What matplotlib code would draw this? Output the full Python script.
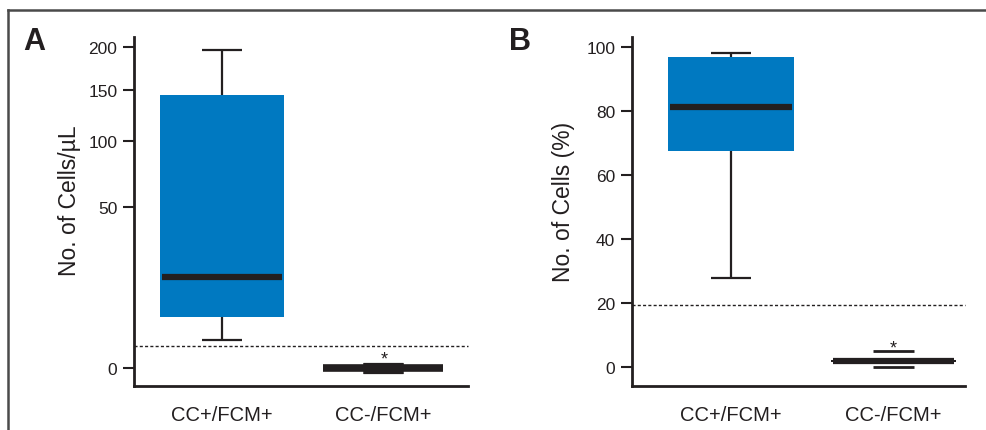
import numpy as np
import matplotlib
matplotlib.use("Agg")
import matplotlib.pyplot as plt
from matplotlib.lines import Line2D

plt.rcParams['font.family'] = ['Liberation Sans', 'DejaVu Sans']

# Box plot summaries
groups = ["CC+/FCM+", "CC-/FCM+"]

# Panel A: absolute counts (cells/uL)
a_lo = [1.5, 0.0]
a_q1 = [5.0, 0.0]
a_med = [16.0, 0.0]
a_q3 = [145.0, 0.0]
a_hi = [196.0, 0.0]
a_cut = 0.95
a_ticks = [0, 50, 100, 150, 200]

# Panel B: percentage of cells
b_lo = [27.8, 0.1]
b_q1 = [67.5, 1.6]
b_med = [81.2, 1.9]
b_q3 = [96.9, 2.2]
b_hi = [98.1, 5.1]
b_cut = 19.5
b_ticks = [0, 20, 40, 60, 80, 100]

BLUE = '#0079C1'
INK = '#231f20'


def ssqrt(v):
    v = np.asarray(v, dtype=float)
    return np.sign(v) * np.sqrt(np.abs(v))


def ssq(v):
    v = np.asarray(v, dtype=float)
    return np.sign(v) * v ** 2


def draw_panel(ax, lo, q1, med, q3, hi, cut, ticks, ylabel, box_colors,
               med_lw, cap_lw, whiskers):
    x = np.arange(len(groups))
    for i in x:
        h = q3[i] - q1[i]
        if h > 0:
            ax.bar(i, h, bottom=q1[i], width=0.77, color=box_colors[i],
                   edgecolor='none', zorder=2)
        if whiskers[i]:
            ax.vlines(i, q3[i], hi[i], color=INK, lw=1.6, zorder=1)
            ax.vlines(i, lo[i], q1[i], color=INK, lw=1.6, zorder=1)
        ax.hlines([lo[i], hi[i]], i - 0.125, i + 0.125, color=INK,
                  lw=cap_lw[i], zorder=3)
        ax.hlines(med[i], i - 0.375, i + 0.375, color=INK, lw=med_lw[i],
                  zorder=4)
    ax.axhline(cut, color=INK, lw=1.0, ls=(0, (2.2, 1.6)), zorder=0,
               clip_on=False)
    ax.set_xticks(x)
    ax.set_xticklabels(groups, fontsize=14.5, color=INK)
    ax.set_yticks(ticks)
    ax.tick_params(axis='y', labelsize=12.5, length=8, width=1.5,
                   colors=INK, pad=4)
    ax.tick_params(axis='x', length=0, pad=14)
    for s in ['top', 'right']:
        ax.spines[s].set_visible(False)
    for s in ['left', 'bottom']:
        ax.spines[s].set_linewidth(2)
        ax.spines[s].set_color(INK)
    ax.set_ylabel(ylabel, fontsize=16.5, color=INK)


fig = plt.figure(figsize=(9.87, 4.31), dpi=100)

axA = fig.add_axes([0.1358, 0.1021, 0.3384, 0.8097])
axA.set_yscale('function', functions=(ssqrt, ssq))
draw_panel(axA, a_lo, a_q1, a_med, a_q3, a_hi, a_cut, a_ticks,
           'No. of Cells/\u00b5L', [BLUE, INK], [4.5, 5.5], [1.6, 8.0],
           [True, False])
axA.set_xlim(-0.547, 1.528)
axA.set_ylim(-0.63, 212.6)
axA.yaxis.set_label_coords(-0.16, 0.535)
axA.text(1.01, 0.0, '*', ha='center', va='bottom', fontsize=13, color=INK)

axB = fig.add_axes([0.6403, 0.1021, 0.3374, 0.8097])
draw_panel(axB, b_lo, b_q1, b_med, b_q3, b_hi, b_cut, b_ticks,
           'No. of Cells (%)', [BLUE, INK], [4.5, 4.5], [1.6, 2.0],
           [True, False])
axB.set_xlim(-0.609, 1.44)
axB.set_ylim(-5.9, 103.1)
axB.yaxis.set_label_coords(-0.172, 0.53)
axB.text(1.0, 3.4, '*', ha='center', va='bottom', fontsize=13, color=INK)

# panel letters
fig.text(0.024, 0.885, 'A', fontsize=22, fontweight='bold', color=INK)
fig.text(0.516, 0.885, 'B', fontsize=22, fontweight='bold', color=INK)

# outer frame (top and left rules)
fig.add_artist(Line2D([0.008, 1.0], [0.974, 0.974], transform=fig.transFigure,
                      color='#4a4a4a', lw=1.8))
fig.add_artist(Line2D([0.008, 0.008], [0.0, 0.974], transform=fig.transFigure,
                      color='#4a4a4a', lw=1.8))

fig.savefig('out.png', dpi=100)
